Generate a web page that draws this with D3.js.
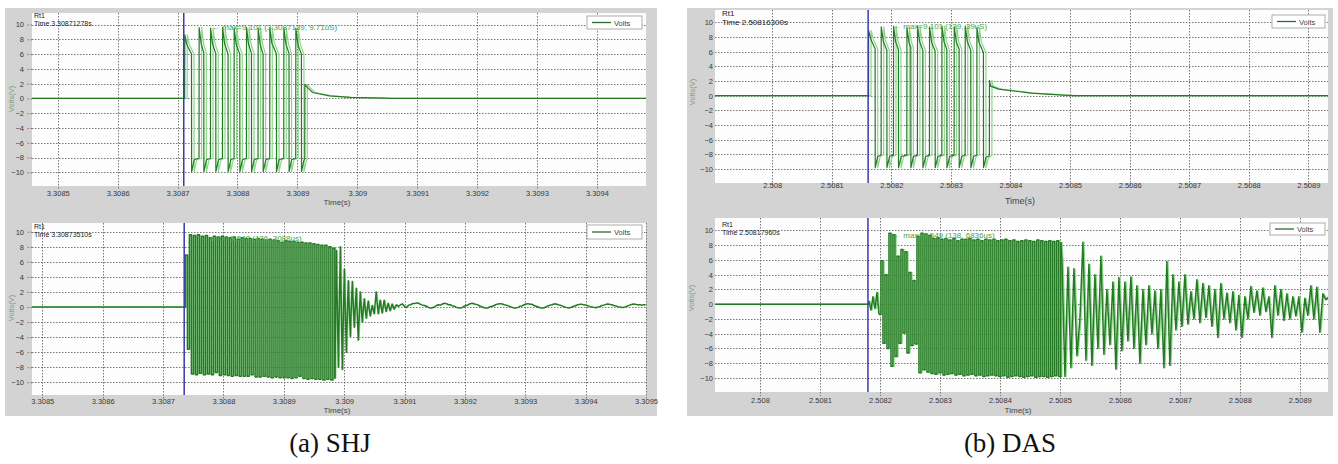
<!DOCTYPE html>
<html>
<head>
<meta charset="utf-8">
<script src="https://cdn.jsdelivr.net/npm/d3@7/dist/d3.min.js"></script>
<style>
  body { margin: 0; background: #fff; }
  svg { display: block; }
</style>
</head>
<body>
<svg id="fig" width="1338" height="464"></svg>
<script>
// ---------------- data ----------------
const voltTicks = [-10, -8, -6, -4, -2, 0, 2, 4, 6, 8, 10];
const shjTopTicks = ["3.3085", "3.3086", "3.3087", "3.3088", "3.3089", "3.309", "3.3091", "3.3092", "3.3093", "3.3094"];
const shjBotTicks = ["3.3085", "3.3086", "3.3087", "3.3088", "3.3089", "3.309", "3.3091", "3.3092", "3.3093", "3.3094", "3.3095"];
const dasTicks = ["2.508", "2.5081", "2.5082", "2.5083", "2.5084", "2.5085", "2.5086", "2.5087", "2.5088", "2.5089"];

// cursor (trigger) times, seconds
const shjTopCursor = 3.30871035;
const shjBotCursor = 3.30873510;
const dasTopCursor = 2.50816107;
const dasBotCursor = 2.50818000;

// pulse trains: [microseconds after cursor, volts]
const shjTopPulse = [
  [-300, 0], [1.5, 0],
  [1.7, 8.6], [5, 7.3], [12.9, 6.0], [13.1, -9.9], [17.5, -8.3],
  [25.5, -8.1], [25.7, 9.6], [29, 7.4], [33.4, 6.2], [33.6, -9.9], [38, -8.3],
  [44.6, -8.1], [44.8, 9.5], [48, 7.4], [53.4, 6.1], [53.6, -9.9], [58, -8.3],
  [64.6, -8.1], [64.8, 9.6], [68, 7.5], [73.9, 6.0], [74.1, -9.9], [78.5, -8.3],
  [84, -8.1], [84.2, 9.5], [87.5, 7.3], [93.5, 6.0], [93.7, -9.9], [98, -8.3],
  [104.6, -8.1], [104.8, 9.6], [108, 7.4], [113, 6.1], [113.2, -9.9], [117.5, -8.3],
  [124, -8.1], [124.2, 9.5], [127.5, 7.3], [132.4, 6.0], [132.6, -9.9], [137, -8.3],
  [143.5, -8.1], [143.7, 9.6], [147, 7.5], [154.7, 6.0], [154.9, -9.9], [159, -8.3],
  [166.9, -8.1], [167.1, 9.5], [170.5, 7.4], [175.7, 6.1], [175.9, -9.9], [180, -8.3],
  [186.9, -8.1], [187.1, 9.5], [190.5, 7.3], [196.4, 6.0], [196.6, -9.9], [200.5, -8.4],
  [202, -8.2], [202.2, 1.9], [205, 1.6], [215, 0.8], [243, 0.35], [277, 0.15], [335, 0.03], [345, 0], [900, 0]
];
const dasTopPulse = [
  [-300, 0], [0.6, 0],
  [0.8, 8.9], [5, 7.6], [11.7, 6.4], [11.9, -9.8], [16, -8.3],
  [21.8, -8.1], [22, 9.4], [25.5, 7.4], [31.4, 6.2], [31.6, -9.8], [36, -8.3],
  [42.5, -8.1], [42.7, 9.5], [46, 7.4], [50.8, 6.3], [51, -9.8], [55.5, -8.3],
  [64.9, -8.1], [65.1, 9.3], [68.5, 7.3], [71.6, 6.6], [71.8, -9.8], [76, -8.3],
  [82.7, -8.1], [82.9, 9.5], [86.3, 7.4], [91.8, 6.2], [92, -9.8], [96.5, -8.3],
  [102.9, -8.1], [103.1, 9.4], [106.5, 7.3], [112.4, 6.1], [112.6, -9.8], [117, -8.3],
  [123.7, -8.1], [123.9, 9.5], [127.3, 7.4], [132.1, 6.3], [132.3, -9.8], [137, -8.3],
  [144.3, -8.1], [144.5, 9.4], [148, 7.3], [152.7, 6.4], [152.9, -9.8], [157, -8.3],
  [162.8, -8.1], [163, 9.5], [166.4, 7.4], [172.3, 6.2], [172.5, -9.8], [177, -8.3],
  [182.4, -8.1], [182.6, 9.3], [186, 7.3], [193.5, 5.9], [193.7, -9.8], [198, -8.4],
  [203.5, -8.2], [203.7, 2.1], [205.5, 1.3], [219, 0.9], [274, 0.35], [335, 0.05], [345, 0], [900, 0]
];

// sampled oscillation, volts (uniform sampling within each segment)
const shjBotBurst = [
  6.9, -5.6, 9.6, -8.9, 9.5, -9.0, 9.6, -8.8, 9.4, -9.0, 9.5, -8.9, 9.2, -9.0, 9.4, -8.7, 9.3, -9.1, 9.4, -9.0,
  9.3, -9.1, 9.2, -9.2, 9.3, -9.1, 9.0, -9.2, 9.2, -9.2, 9.1, -9.2, 9.1, -9.0, 9.0, -9.3, 9.1, -9.3, 9.0, -9.2,
  8.9, -9.3, 9.0, -9.4, 8.9, -9.3, 8.8, -9.4, 8.6, -9.4, 8.8, -9.4, 8.7, -9.5, 8.7, -9.4, 8.6, -9.2, 8.6, -9.5,
  8.5, -9.6, 8.5, -9.5, 8.4, -9.6, 8.3, -9.6, 8.2, -9.7, 8.2, -9.6, 8.0, -9.7, 7.8, -9.5
];
const shjBotDecay = [
  7.5, -8.0, 8.0, -8.3, 5.0, -6.0, 3.5, -3.9, 3.4, -2.7, 2.5, -4.4, 2.0, -2.0, 1.1, -1.5,
  0.8, -1.2, 0.2, -0.9, 2.0, -0.9, 0.9, -0.8, 0.9, -0.6, 0.5, -0.5, 0.4, -0.3, 0.3
];
const shjBotRipple = [
  0.1, 0.3, 0.4, 0.05, -0.05, 0.25, 0.3, 0.45, 0.45, 0.55,
  0.5, 0.35, 0.25, 0.2, 0.1, -0.05, -0.15, -0.1, 0.0, 0.2,
  0.3, 0.25, 0.4, 0.5, 0.45, 0.3, 0.3, 0.15, 0.1, -0.05,
  -0.1, -0.15, -0.05, 0.1, 0.2, 0.3, 0.45, 0.5, 0.4, 0.35,
  0.25, 0.1, 0.0, -0.1, -0.15, -0.1, 0.05, 0.1, 0.2, 0.35,
  0.4, 0.45, 0.4, 0.3, 0.25, 0.15, 0.05, -0.05, -0.15, -0.1,
  -0.05, 0.1, 0.15, 0.3, 0.4, 0.45, 0.35, 0.35, 0.2, 0.1,
  0.0, -0.1, -0.15, -0.1, 0.0, 0.15, 0.25, 0.3, 0.4, 0.4,
  0.3, 0.25, 0.15, 0.05, -0.05, -0.1, -0.1, 0.0, 0.1, 0.2,
  0.3, 0.35, 0.35, 0.3, 0.25, 0.15, 0.05, 0.0, -0.05, -0.1,
  0.0, 0.05, 0.2, 0.25, 0.35, 0.4, 0.35, 0.3, 0.2, 0.15,
  0.05, 0.0, -0.05, -0.05, 0.05, 0.15, 0.25, 0.35, 0.4, 0.35,
  0.3, 0.3, 0.25, 0.3, 0.3
];
const shjBotSegStart = [2, 252, 355];     // microseconds after cursor
const shjBotSegStep = [3.3, 3.3, 3.3];

const dasBotOnset = [0.4, -0.8, 1.0, -0.6, 1.6, -1.4];
const dasBotBuild = [5.9, -5.3, 4.0, -6.0, 9.6, -8.4, 9.4, -7.1, 6.5, -5.3, 7.4, -3.9, 7.1, -6.6, 4.3, -5.6, 3.2, -5.4];
const dasBotBurst = [
  9.2, -9.3, 9.6, -8.9, 9.5, -9.2, 9.3, -9.4, 8.9, -9.5, 9.0, -9.3, 8.8, -9.6, 8.9, -9.5, 8.7, -9.4, 8.9, -9.6,
  8.6, -9.5, 8.8, -9.7, 8.8, -9.6, 8.9, -9.5, 8.7, -9.7, 8.8, -9.6, 8.6, -9.8, 8.8, -9.7, 8.7, -9.6, 8.8, -9.7,
  8.6, -9.8, 8.7, -9.7, 8.8, -9.9, 8.6, -9.8, 8.7, -9.7, 8.5, -9.8, 8.6, -9.9, 8.7, -9.8, 8.6, -9.7, 8.5, -9.9,
  8.7, -9.8, 8.6, -9.8, 8.5, -9.9, 8.6, -9.8, 8.5, -9.7, 8.6, -9.8, 8.4
];
const dasBotDecay = [
  5.9, -9.8, 5.0, -8.6, 4.8, -7.0, -2.0, 8.4, -7.6, 5.4, -8.3, 4.0, -6.0, 6.5, -6.8, 2.0, -5.5, 3.0, -8.8, 3.6,
  -6.3, 3.0, -5.0, 3.7, -6.0, 2.5, -8.0, 2.0, -5.5, 2.5, -4.0, 1.8, -6.0, 2.0, -8.6, 5.8, -8.3, 4.0, -3.5, 3.0,
  -3.0, 4.0, -2.7, 1.7, -2.0, 3.3, -2.5, 2.8, -1.8, 2.5, -3.0, 2.0, -4.5, 2.8, -2.0, 1.5, -2.5, 1.7, -3.5, 1.2,
  -4.5, 1.0, -2.0, 2.4, -1.1, 1.8, -1.5, 2.2, -1.0, 1.0, -4.5, 2.5, -1.5, 2.0, -2.2, 1.4, -2.0, 1.0, -1.6, 1.0,
  -3.8, 0.8, -1.5, 2.5, -2.0, 2.3, -3.8, 1.4, 0.6, 1.0
];
const dasBotSegStart = [1.7, 21.7, 81.7, 323.4];
const dasBotSegStep = [3.33, 3.33, 3.33, 5.0];

// ---------------- assemble traces ----------------
function sampled(start, step, vals) {
  return vals.map((v, i) => [start + i * step, v]);
}
const flatLead = [[-300, 0], [1.5, 0]];
// each piece: points + drawing curve; pieces are joined end to start
const shjBotPieces = [
  { pts: flatLead, curve: d3.curveLinear },
  { pts: sampled(shjBotSegStart[0], shjBotSegStep[0], shjBotBurst), curve: d3.curveStepAfter },
  { pts: sampled(shjBotSegStart[1], shjBotSegStep[1], shjBotDecay), curve: d3.curveLinear },
  { pts: sampled(shjBotSegStart[2], shjBotSegStep[2], shjBotRipple), curve: d3.curveLinear }
];
const dasBotPieces = [
  { pts: flatLead, curve: d3.curveLinear },
  { pts: sampled(dasBotSegStart[0], dasBotSegStep[0], dasBotOnset), curve: d3.curveLinear },
  { pts: sampled(dasBotSegStart[1], dasBotSegStep[1], dasBotBuild), curve: d3.curveStepAfter },
  { pts: sampled(dasBotSegStart[2], dasBotSegStep[2], dasBotBurst), curve: d3.curveStepAfter },
  { pts: sampled(dasBotSegStart[3], dasBotSegStep[3], dasBotDecay), curve: d3.curveLinear }
];

// ---------------- layout ----------------
const panels = [
  { key: "shjTop", rect: [32, 13, 646, 186], xDom: [3.308457, 3.309482], yDom: [-11.85, 11.56],
    ticks: shjTopTicks, cursor: shjTopCursor, pieces: [{ pts: shjTopPulse, curve: d3.curveLinear }],
    shift: 2.5, lightW: 1.2, darkW: 1.2,
    tickLabelY: 198, tickLabelEnd: 24, tickOut: 6, timeTitle: [337, 205, 8],
    voltTitle: [12, 99], info: [34, 18, "Time 3.30871278s", 7],
    ann: [212, 30, "\u2190 max=9.101 (3.3087139, 9.71uS)"], legend: [587, 16, 55, 13] },
  { key: "shjBot", rect: [32, 223, 646, 395], xDom: [3.308483, 3.3095], yDom: [-11.69, 11.16],
    ticks: shjBotTicks, cursor: shjBotCursor, pieces: shjBotPieces,
    shift: 1, lightW: 0.8, darkW: 1.5,
    tickLabelY: 406, tickLabelEnd: 24, tickOut: 6, timeTitle: [337, 413, 8],
    voltTitle: [12, 308], info: [34, 229, "Time 3.30873510s", 7],
    ann: [200, 241, "\u2190 max=9.548 (136, 3088us)"], legend: [587, 225, 55, 14] },
  { key: "dasTop", rect: [715, 10, 1328, 183], xDom: [2.507904, 2.508933], yDom: [-11.91, 11.69],
    ticks: dasTicks, cursor: dasTopCursor, pieces: [{ pts: dasTopPulse, curve: d3.curveLinear }],
    shift: 2.5, lightW: 1.2, darkW: 1.2,
    tickLabelY: 190, tickLabelEnd: 713, tickOut: 0, timeTitle: [1020, 204, 9],
    voltTitle: [693, 92], info: [722, 16, "Time 2.50816300s", 8],
    ann: [893, 29, "\u2190 max=9.101 (139, 39uS)"], legend: [1272, 15, 53, 13] },
  { key: "dasBot", rect: [715, 218, 1328, 392], xDom: [2.507925, 2.508947], yDom: [-11.9, 11.68],
    ticks: dasTicks, cursor: dasBotCursor, pieces: dasBotPieces,
    shift: 1.2, lightW: 1.2, darkW: 1.5,
    tickLabelY: 405, tickLabelEnd: 713, tickOut: 0, timeTitle: [1018, 413, 8],
    voltTitle: [692, 298], info: [722, 227, "Time 2.50817960s", 7],
    ann: [893, 238, "\u2190 max=9.549 (138, 6836us)"], legend: [1270, 223, 55, 12] }
];

const captions = [
  { text: "(a) SHJ", x: 330 },
  { text: "(b) DAS", x: 1010 }
];

// ---------------- drawing ----------------
const svg = d3.select("#fig");
const SANS = "'Liberation Sans', Arial, sans-serif";
const DARK = "#267a26";
const LIGHT = "#8cd98c";

// grey figure backgrounds
svg.append("rect").attr("x", 5).attr("y", 8).attr("width", 652).attr("height", 408).attr("fill", "#d3d3d3");
svg.append("rect").attr("x", 687).attr("y", 8).attr("width", 646).attr("height", 408).attr("fill", "#d3d3d3");

panels.forEach(p => {
  const [x0, y0, x1, y1] = p.rect;
  const x = d3.scaleLinear().domain(p.xDom).range([x0, x1]);
  const y = d3.scaleLinear().domain(p.yDom).range([y1, y0]);
  const g = svg.append("g").attr("class", p.key);

  g.append("rect").attr("x", x0).attr("y", y0).attr("width", x1 - x0).attr("height", y1 - y0)
    .attr("fill", "#fdfdfd");

  const clipId = "clip-" + p.key;
  g.append("clipPath").attr("id", clipId)
    .append("rect").attr("x", x0).attr("y", y0).attr("width", x1 - x0).attr("height", y1 - y0);

  const tickVals = p.ticks.map(Number);

  // dotted grid
  g.append("g").selectAll("line").data(voltTicks).join("line")
    .attr("x1", x0).attr("x2", x1).attr("y1", d => Math.round(y(d)) + 0.5).attr("y2", d => Math.round(y(d)) + 0.5)
    .attr("stroke", "#6a6a6a").attr("stroke-width", 0.9).attr("stroke-dasharray", "1.5,1.5");
  g.append("g").selectAll("line").data(tickVals).join("line")
    .attr("x1", d => Math.round(x(d)) + 0.5).attr("x2", d => Math.round(x(d)) + 0.5).attr("y1", y0).attr("y2", y1 + 4)
    .attr("stroke", "#6a6a6a").attr("stroke-width", 0.9).attr("stroke-dasharray", "1.5,1.5");

  // axes through d3 axis generators (labels only, styled afterwards)
  const xAxis = d3.axisBottom(x).tickValues(tickVals).tickFormat((d, i) => p.ticks[i]).tickSize(0).tickPadding(0);
  const xa = g.append("g").attr("transform", `translate(0,${p.tickLabelY - 7})`).call(xAxis);
  xa.select(".domain").remove();
  xa.selectAll("text").attr("font-family", SANS).attr("font-size", 7.5).attr("fill", "#3a3a3a");

  const yAxis = d3.axisLeft(y).tickValues(voltTicks).tickFormat(d3.format("d")).tickSize(p.tickOut).tickPadding(x0 - p.tickOut - p.tickLabelEnd);
  const ya = g.append("g").attr("transform", `translate(${x0},0)`).call(yAxis);
  ya.select(".domain").remove();
  ya.selectAll("line").attr("stroke", "#777").attr("stroke-dasharray", "1.5,1.5");
  ya.selectAll("text").attr("font-family", SANS).attr("font-size", 7.5).attr("fill", "#3a3a3a");

  // signal: faint persistence copy, then main trace; each piece starts where the previous ended
  const plot = g.append("g").attr("clip-path", `url(#${clipId})`);
  const pieceData = p.pieces.map((pc, i) => ({
    curve: pc.curve,
    pts: i === 0 ? pc.pts : [p.pieces[i - 1].pts[p.pieces[i - 1].pts.length - 1]].concat(pc.pts)
  }));
  const layers = [
    { color: LIGHT, width: p.lightW, dx: p.shift },
    { color: DARK, width: p.darkW, dx: 0 }
  ];
  layers.forEach(L => {
    const lg = plot.append("g").attr("transform", `translate(${L.dx},0)`);
    pieceData.forEach(pc => {
      const line = d3.line().curve(pc.curve)
        .x(d => x(p.cursor + d[0] * 1e-6)).y(d => y(d[1]));
      lg.append("path").datum(pc.pts).attr("d", line)
        .attr("fill", "none").attr("stroke", L.color).attr("stroke-width", L.width)
        .attr("stroke-linejoin", "round");
    });
  });

  // cursor
  g.append("line").attr("x1", x(p.cursor)).attr("x2", x(p.cursor)).attr("y1", y0).attr("y2", y1)
    .attr("stroke", "#3a3aa8").attr("stroke-width", 1.5);

  // cursor readout
  g.append("text").attr("x", p.info[0]).attr("y", p.info[1]).text("Rt1")
    .attr("font-family", SANS).attr("font-size", p.info[3]).attr("fill", "#222");
  g.append("text").attr("x", p.info[0]).attr("y", p.info[1] + p.info[3] + 1).text(p.info[2])
    .attr("font-family", SANS).attr("font-size", p.info[3]).attr("fill", "#222");

  // peak annotation
  g.append("text").attr("x", p.ann[0]).attr("y", p.ann[1]).text(p.ann[2])
    .attr("font-family", SANS).attr("font-size", 8).attr("fill", "#47a547");

  // legend
  const [lx, ly, lw, lh] = p.legend;
  g.append("rect").attr("x", lx).attr("y", ly).attr("width", lw).attr("height", lh)
    .attr("fill", "#fff").attr("stroke", "#9a9a9a").attr("stroke-width", 0.8);
  g.append("line").attr("x1", lx + 5).attr("x2", lx + 24).attr("y1", ly + lh / 2).attr("y2", ly + lh / 2)
    .attr("stroke", "#2f6a2f").attr("stroke-width", 1.3);
  g.append("text").attr("x", lx + 27).attr("y", ly + lh / 2 + 3).text("Volts")
    .attr("font-family", SANS).attr("font-size", 7.5).attr("fill", "#444");

  // axis titles
  g.append("text").attr("x", p.timeTitle[0]).attr("y", p.timeTitle[1]).text("Time(s)")
    .attr("text-anchor", "middle").attr("font-family", SANS).attr("font-size", p.timeTitle[2]).attr("fill", "#444");
  g.append("text").attr("transform", `translate(${p.voltTitle[0]},${p.voltTitle[1]}) rotate(-90)`)
    .text("Volts(V)").attr("text-anchor", "middle").attr("dominant-baseline", "middle")
    .attr("font-family", SANS).attr("font-size", 7.5).attr("fill", "#7f9f7f");
});

// figure captions
svg.selectAll("text.caption").data(captions).join("text").attr("class", "caption")
  .attr("x", d => d.x).attr("y", 452).attr("text-anchor", "middle")
  .attr("font-family", "'Liberation Serif', 'Times New Roman', serif").attr("font-size", 27)
  .attr("fill", "#111").text(d => d.text);
</script>
</body>
</html>
